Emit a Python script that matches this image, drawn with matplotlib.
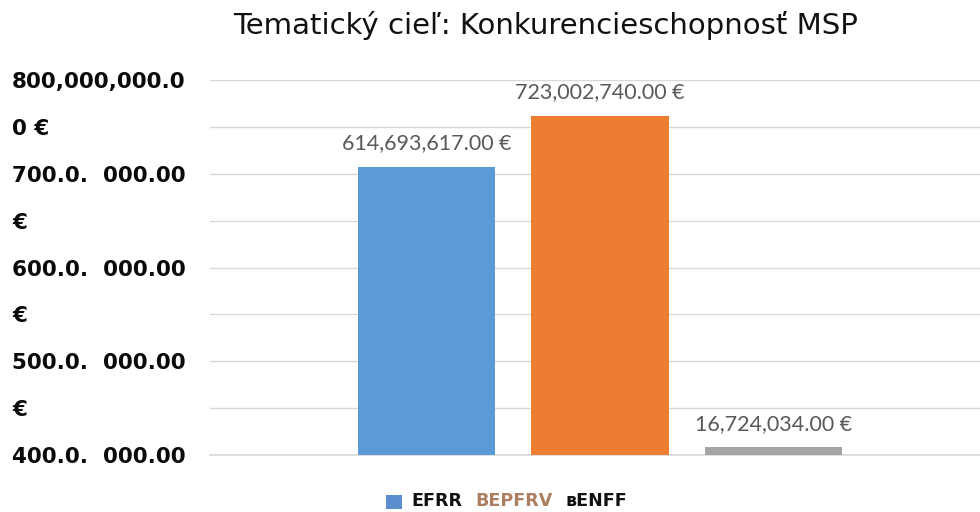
import matplotlib
matplotlib.use("Agg")
import matplotlib.pyplot as plt
from matplotlib.patches import Rectangle

title = "Tematický cieľ: Konkurencieschopnosť MSP"
categories = ["EFRR", "EPFRV", "ENFF"]
values = [614693617.00, 723002740.00, 16724034.00]
value_labels = ["614,693,617.00 €", "723,002,740.00 €", "16,724,034.00 €"]
colors = ["#5b9bd5", "#ed7d31", "#a5a5a5"]
tick_values = [0, 100e6, 200e6, 300e6, 400e6, 500e6, 600e6, 700e6, 800e6]
tick_labels = ["400.0.  000.00", "€", "500.0.  000.00", "€", "600.0.  000.00",
               "€", "700.0.  000.00", "0 €", "800,000,000.0"]
legend_parts = ["EFRR", "BEPFRV", "ʙENFF"]
legend_colors = ["#111111", "#ad7f61", "#111111"]

W, H = 980, 512
fig = plt.figure(figsize=(W / 100, H / 100), dpi=100)
ax = fig.add_axes([210 / W, 57 / H, 770 / W, 375 / H])

x = list(range(len(categories)))
ax.bar(x, values, width=0.79, color=colors, zorder=3)
for xi, v, lab in zip(x, values, value_labels):
    ax.annotate(lab, (xi, v), xytext=(0, 12.6), textcoords="offset points",
                ha="center", va="baseline", fontsize=15.5, color="#595959",
                family="Lato")

ax.set_xlim(-1.248, 3.19)
ax.set_ylim(0, 800e6)
ax.set_yticks(tick_values)
ax.set_yticklabels(tick_labels, fontsize=15.5, fontweight="bold", family="DejaVu Sans",
                   ha="left")
ax.tick_params(axis="y", length=0, pad=198 * 72 / 100, colors="#0a0a0a")
ax.set_xticks([])
ax.grid(axis="y", color="#d9d9d9", linewidth=1, zorder=0)
ax.axhline(0, color="#d9d9d9", linewidth=1.2, zorder=1, clip_on=False)
for s in ax.spines.values():
    s.set_visible(False)

fig.text(546 / W, 1 - 25 / H, title, ha="center", va="center", fontsize=21,
         family="DejaVu Sans", color="#111111")

# legend
fig.add_artist(Rectangle((386 / W, 1 - 509 / H), 16 / W, 14 / H,
                         transform=fig.transFigure, facecolor="#5b8fd0",
                         edgecolor="none"))
legend_x = [411, 514, 565]
legend_ha = ["left", "center", "left"]
for txt, col, lx, ha in zip(legend_parts, legend_colors, legend_x, legend_ha):
    fig.text(lx / W, 1 - 506 / H, txt, ha=ha, va="baseline", fontsize=12.6,
             fontweight="bold", family="DejaVu Sans", color=col)

fig.savefig("out.png", dpi=100)
